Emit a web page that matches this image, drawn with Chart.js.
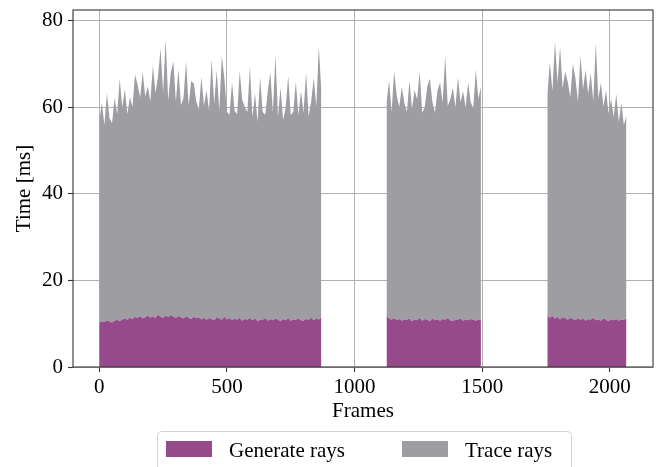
<!DOCTYPE html>
<html lang="en">
<head>
  <meta charset="UTF-8">
  <title>Generate rays / Trace rays per frame</title>
  <script src="https://cdn.jsdelivr.net/npm/chart.js"></script>
  <style>
    html, body { margin: 0; padding: 0; background: #fff; }
    #wrap { width: 671px; height: 467px; }
  </style>
</head>
<body>
  <div id="wrap"><canvas id="rayChart" width="671" height="467"></canvas></div>

  <script>
    // three recorded runs, values read every 10 frames
    const FRAME_STEP = 10;
    const segmentStarts = [0, 1125, 1755];

    const generateRays1 = [
      10.2, 10.6, 10.4, 10.8, 10.5, 10.3, 10.7, 10.9, 10.6, 11.0,
      11.2, 10.9, 11.4, 11.1, 11.6, 11.3, 11.8, 11.2, 11.5, 11.9,
      11.4, 11.7, 11.3, 12.1, 11.6, 11.4, 11.9, 11.5, 12.0, 11.6,
      11.3, 11.8, 11.5, 11.2, 11.7, 11.4, 11.1, 11.6, 11.3, 11.5,
      11.0, 11.4, 10.9, 11.3, 11.1, 10.8, 11.5, 11.2, 10.9, 11.6,
      11.0, 11.3, 10.8, 11.2, 10.9, 11.4, 10.7, 11.1, 10.9, 11.3,
      10.8, 11.2, 10.6, 11.0, 10.9, 11.3, 10.7, 11.1, 10.8, 11.2,
      10.9, 10.6, 11.1, 10.8, 11.3, 10.7, 11.0, 10.9, 11.2, 10.8,
      10.7, 11.1, 10.9, 11.4, 10.8, 11.2, 11.0, 11.5
    ];
    const traceRays1 = [
      46.5, 50.5, 45.5, 52.5, 47.0, 46.0, 51.5, 47.5, 56.0, 49.0,
      53.0, 47.5, 51.0, 49.0, 56.0, 54.0, 50.5, 57.0, 51.0, 53.0,
      50.0, 58.0, 52.0, 55.0, 62.0, 52.0, 64.0, 50.0, 56.0, 59.0,
      50.0, 57.0, 49.0, 51.0, 59.0, 49.0, 55.0, 54.0, 50.0, 48.0,
      56.0, 49.0, 53.0, 48.0, 60.0, 50.0, 57.0, 48.0, 61.0, 55.0,
      48.0, 47.0, 55.0, 48.0, 47.5, 57.0, 51.0, 49.0, 48.0, 58.0,
      47.0, 52.0, 46.0, 56.0, 48.0, 47.0, 53.0, 57.0, 48.0, 61.0,
      47.0, 54.0, 46.0, 49.0, 56.0, 47.5, 48.0, 55.0, 47.0, 53.0,
      48.0, 57.0, 47.0, 50.0, 56.0, 49.0, 63.0, 52.0
    ];

    const generateRays2 = [
      11.8, 11.2, 10.9, 11.3, 10.8, 11.1, 10.7, 11.0, 10.9, 11.2,
      10.6, 11.0, 10.8, 11.3, 10.7, 11.1, 10.9, 10.6, 11.2, 10.8,
      11.0, 10.7, 11.1, 10.9, 11.3, 10.8, 10.6, 11.0, 10.9, 11.2,
      10.7, 11.0, 10.8, 11.1, 10.9, 10.7, 11.0, 10.8
    ];
    const traceRays2 = [
      49.0, 55.0, 48.0, 57.0, 52.0, 49.0, 54.0, 50.0, 48.0, 55.0,
      49.0, 53.0, 51.0, 57.0, 48.0, 49.0, 54.0, 56.0, 50.0, 48.0,
      53.0, 55.0, 50.0, 61.0, 49.0, 51.0, 54.0, 49.0, 56.0, 50.0,
      53.0, 49.0, 55.0, 50.0, 49.0, 58.0, 51.0, 54.0
    ];

    const generateRays3 = [
      12.0, 11.4, 11.8, 11.2, 11.6, 11.0, 11.5, 11.3, 10.9, 11.4,
      11.1, 10.8, 11.3, 10.9, 11.2, 10.7, 11.1, 10.9, 11.4, 10.8,
      11.0, 10.7, 11.2, 10.9, 10.6, 11.0, 10.8, 11.1, 10.7, 11.0,
      10.9, 11.2
    ];
    const traceRays3 = [
      51.0, 59.0, 52.0, 64.0, 54.0, 63.0, 53.0, 57.0, 55.0, 51.0,
      59.0, 56.0, 50.0, 61.0, 53.0, 58.0, 52.0, 57.0, 50.0, 64.0,
      51.0, 55.0, 49.0, 53.0, 48.0, 51.0, 47.0, 52.0, 46.0, 50.0,
      45.0, 47.0
    ];

    const seriesLabels = ['Generate rays', 'Trace rays'];
    const seriesColors = ['#964a8b', '#9e9da2'];
    const xTicks = [0, 500, 1000, 1500, 2000];
    const yTicks = [0, 20, 40, 60, 80];

    const FONT = "'Liberation Serif', 'Times New Roman', serif";

    // join the runs into one {x, y} list, a null point breaks the fill between runs
    function joinRuns(runs) {
      const pts = [];
      runs.forEach((vals, r) => {
        vals.forEach((v, i) => pts.push({ x: segmentStarts[r] + i * FRAME_STEP, y: v }));
        if (r < runs.length - 1) {
          pts.push({ x: segmentStarts[r] + vals.length * FRAME_STEP, y: null });
        }
      });
      return pts;
    }

    const generateData = joinRuns([generateRays1, generateRays2, generateRays3]);
    const traceData = joinRuns([traceRays1, traceRays2, traceRays3]);

    // axes box on top of everything
    const frameBox = {
      id: 'frameBox',
      afterDraw(chart) {
        const { ctx, chartArea: a } = chart;
        ctx.save();
        ctx.strokeStyle = '#333';
        ctx.lineWidth = 1.1;
        ctx.strokeRect(a.left, a.top, a.right - a.left, a.bottom - a.top);
        ctx.restore();
      }
    };

    // legend box under the axes, like the original figure
    const boxLegend = {
      id: 'boxLegend',
      afterDraw(chart) {
        const ctx = chart.ctx;
        const ds = chart.data.datasets;
        ctx.save();
        ctx.beginPath();
        ctx.roundRect(157.5, 431.5, 414, 60, 4);
        ctx.fillStyle = '#fff';
        ctx.fill();
        ctx.strokeStyle = '#d4d4d4';
        ctx.lineWidth = 1;
        ctx.stroke();

        ctx.font = '21px ' + FONT;
        ctx.textBaseline = 'alphabetic';
        const swatchX = [166, 402];
        ds.forEach((d, i) => {
          ctx.fillStyle = d.backgroundColor;
          ctx.fillRect(swatchX[i], 441, 46, 16);
          ctx.fillStyle = '#000';
          ctx.fillText(d.label, swatchX[i] + 63, 456.5);
        });
        ctx.restore();
      }
    };

    // no extra room for edge labels, the plot box is fixed like the original
    function noEdgePadding(s) {
      s.paddingTop = 0;
      s.paddingBottom = 0;
      s.paddingLeft = 0;
      s.paddingRight = 0;
    }

    new Chart(document.getElementById('rayChart'), {
      type: 'line',
      data: {
        datasets: [
          {
            label: seriesLabels[0],
            data: generateData,
            backgroundColor: seriesColors[0],
            borderWidth: 0,
            pointRadius: 0,
            fill: 'origin',
            spanGaps: false
          },
          {
            label: seriesLabels[1],
            data: traceData,
            backgroundColor: seriesColors[1],
            borderWidth: 0,
            pointRadius: 0,
            fill: '-1',
            spanGaps: false
          }
        ]
      },
      options: {
        responsive: false,
        animation: false,
        layout: { padding: { left: 0, right: 18, top: 10, bottom: 43 } },
        elements: { line: { tension: 0 } },
        plugins: {
          legend: { display: false },
          tooltip: { enabled: false }
        },
        scales: {
          x: {
            type: 'linear',
            min: -103,
            max: 2169,
            z: 1,
            afterBuildTicks: s => { s.ticks = xTicks.map(v => ({ value: v })); },
            afterFit: s => { s.height = 57; noEdgePadding(s); },
            border: { display: false },
            grid: { color: '#b0b0b0', lineWidth: 1, tickLength: 5, tickColor: '#333', tickWidth: 1.1 },
            ticks: {
              color: '#000', font: { family: FONT, size: 21 }, padding: 3,
              maxRotation: 0, autoSkip: false, callback: v => String(v)
            },
            title: { display: true, text: 'Frames', color: '#000', font: { family: FONT, size: 21 }, padding: 0 }
          },
          y: {
            stacked: true,
            min: 0,
            max: 82.5,
            z: 1,
            afterBuildTicks: s => { s.ticks = yTicks.map(v => ({ value: v })); },
            afterFit: s => { s.width = 73; noEdgePadding(s); },
            border: { display: false },
            grid: { color: '#b0b0b0', lineWidth: 1, tickLength: 5, tickColor: '#333', tickWidth: 1.1 },
            ticks: { color: '#000', font: { family: FONT, size: 21 }, padding: 5, callback: v => String(v) },
            title: { display: true, text: 'Time [ms]', color: '#000', font: { family: FONT, size: 21 }, padding: 12 }
          }
        }
      },
      plugins: [frameBox, boxLegend]
    });
  </script>
</body>
</html>
